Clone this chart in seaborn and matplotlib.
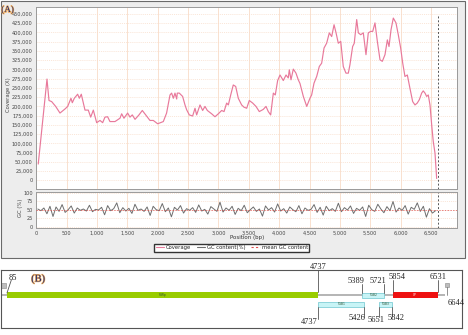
import numpy as np
import pandas as pd
import matplotlib.pyplot as plt
import seaborn as sns
from matplotlib.patches import Rectangle
from matplotlib.lines import Line2D
from matplotlib.ticker import FuncFormatter, MultipleLocator
import matplotlib.patheffects as pe

# ---- panel A data: coverage along the genome (bp, coverage in thousands X) ----
cov_pos = [32, 176, 209, 253, 319, 390, 472, 517, 571, 593,
           626, 681, 709, 741, 802, 856, 896, 939, 994, 1049,
           1093, 1131, 1175, 1213, 1296, 1378, 1406, 1444, 1504, 1543,
           1581, 1626, 1691, 1746, 1802, 1872, 1927, 1999, 2092, 2146,
           2202, 2229, 2257, 2284, 2312, 2322, 2355, 2410, 2449, 2476,
           2520, 2575, 2614, 2641, 2696, 2740, 2778, 2817, 2888, 2943,
           2998, 3053, 3092, 3135, 3163, 3202, 3244, 3284, 3327, 3382,
           3420, 3465, 3508, 3564, 3618, 3673, 3739, 3783, 3821, 3860,
           3904, 3936, 3975, 4014, 4068, 4113, 4150, 4167, 4195, 4233,
           4277, 4315, 4343, 4398, 4454, 4507, 4535, 4574, 4618, 4661,
           4700, 4739, 4782, 4826, 4865, 4904, 4937, 4974, 5014, 5056,
           5100, 5139, 5166, 5210, 5237, 5277, 5304, 5343, 5386, 5430,
           5468, 5508, 5541, 5578, 5617, 5661, 5699, 5743, 5782, 5809,
           5842, 5880, 5924, 5962, 6001, 6035, 6072, 6111, 6154, 6199,
           6237, 6274, 6308, 6347, 6373, 6402, 6429, 6456, 6484, 6512,
           6538, 6567, 6594]
cov_k = [44, 274, 216, 213, 200, 182, 193, 200, 222, 210,
         222, 233, 222, 233, 190, 190, 171, 190, 156, 162,
         156, 171, 172, 159, 159, 168, 180, 168, 182, 171,
         177, 165, 177, 189, 177, 162, 162, 153, 159, 182,
         231, 236, 222, 236, 220, 236, 236, 227, 204, 191,
         177, 174, 195, 177, 204, 189, 200, 189, 180, 172,
         180, 189, 186, 209, 204, 231, 258, 254, 222, 204,
         198, 195, 216, 209, 200, 186, 192, 200, 186, 177,
         236, 231, 270, 285, 270, 285, 277, 299, 272, 301,
         290, 272, 262, 227, 200, 222, 231, 263, 281, 308,
         317, 358, 371, 399, 389, 421, 399, 371, 376, 308,
         290, 290, 313, 362, 371, 435, 399, 394, 399, 340,
         399, 403, 403, 426, 376, 326, 322, 340, 380, 362,
         407, 439, 426, 394, 358, 317, 281, 285, 249, 213,
         204, 209, 218, 236, 242, 236, 227, 231, 204, 150,
         105, 73, 5]

# GC content (%) in 50 bp windows
gc_pos = list(range(25, 6625, 50))
gc_val = [52, 47, 55, 38, 60, 30, 58, 45, 65, 42, 50, 61,
          40, 55, 48, 52, 46, 63, 44, 51, 49, 57, 35, 62,
          47, 53, 70, 41, 56, 46, 54, 39, 66, 48, 52, 45,
          58, 33, 60, 50, 47, 68, 44, 55, 29, 57, 49, 62,
          40, 53, 48, 56, 42, 64, 46, 51, 37, 59, 52, 45,
          72, 43, 55, 48, 60, 36, 54, 47, 63, 41, 50, 58,
          45, 52, 31, 61, 49, 56, 43, 67, 46, 53, 40, 58,
          50, 44, 62, 38, 55, 48, 51, 65, 42, 57, 34, 60,
          47, 53, 45, 69, 44, 56, 49, 61, 39, 54, 48, 58,
          30, 63, 50, 45, 66, 52, 41, 59, 47, 74, 43, 55,
          48, 62, 37, 57, 51, 70, 45, 60, 28, 53, 40, 47]
mean_gc = 50
ref_end = 6611

# ---- panel B data: genome map ----
genome_len = 6644
gene_names = ['RdRp', 'TGB2', 'CP', 'TGB1', 'TGB3']
gene_start = [85, 5389, 5854, 4737, 5651]
gene_end = [4737, 5721, 6531, 5426, 5842]
gene_row = ['top', 'top', 'top', 'bottom', 'bottom']

cov = pd.DataFrame({'pos': cov_pos, 'cov': np.array(cov_k) * 1000})
gc = pd.DataFrame({'pos': gc_pos, 'gc': gc_val})

W, H = 468, 335


def box(l, t, r, b):
    # pixel box -> figure fraction
    return [l / W, 1 - b / H, (r - l) / W, (b - t) / H]


sns.set_style('white')
plt.rcParams['font.family'] = ['DejaVu Sans']
fig = plt.figure(figsize=(W / 100, H / 100), dpi=100)

# background frames
bg = fig.add_axes([0, 0, 1, 1], zorder=-5)
bg.set_xlim(0, W)
bg.set_ylim(H, 0)
bg.axis('off')
bg.add_patch(Rectangle((1, 1), 463.5, 257, fc='#ededed', ec='#6a6a6a', lw=0.8))

grid_c = '#f8dcc8'
tick_kw = dict(labelsize=3.6, colors='#444444', length=1.5, width=0.5, pad=1)

# coverage panel
ax1 = fig.add_axes(box(36.3, 7, 457, 189))
sns.lineplot(data=cov, x='pos', y='cov', ax=ax1, color='#e8799b', lw=0.85)
ax1.set_xlim(0, 6929)
ax1.set_ylim(-23500, 469000)
ax1.yaxis.set_major_locator(MultipleLocator(25000))
ax1.yaxis.set_major_formatter(FuncFormatter(lambda v, p: f'{int(v):,}'))
ax1.set_xticks(range(0, 7000, 500))
ax1.set_xticklabels([])
ax1.vlines(ref_end, -23500, 447000, colors='#555555', linestyles=(0, (2, 2)), lw=0.7)

# GC panel
ax2 = fig.add_axes(box(36.3, 192, 457, 227.5))
sns.lineplot(data=gc, x='pos', y='gc', ax=ax2, color='#6e6e6e', lw=0.7)
ax2.axhline(mean_gc, color='#e05050', lw=0.5, ls=(0, (2, 2)), zorder=3)
ax2.axvline(ref_end, color='#555555', lw=0.7, ls=(0, (2, 2)))
ax2.set_xlim(0, 6929)
ax2.set_ylim(-2.4, 102)
ax2.set_yticks([0, 25, 50, 75, 100])
ax2.set_xticks(range(0, 7000, 500))
ax2.xaxis.set_major_formatter(FuncFormatter(lambda v, p: f'{int(v):,}'))

for ax in (ax1, ax2):
    ax.set_facecolor('white')
    ax.set_xlabel('')
    ax.set_ylabel('')
    ax.tick_params(**tick_kw)
    ax.xaxis.grid(True, color=grid_c, lw=0.6)
    ax.yaxis.grid(True, color=grid_c, lw=0.5, ls=(0, (1.5, 1.5)))
    ax.set_axisbelow(True)
    for s in ax.spines.values():
        s.set_color('#9a9a9a')
        s.set_linewidth(0.7)

fig.text(8.5 / W, 1 - 95 / H, 'Coverage (X)', rotation=90, fontsize=3.8,
         color='#444444', ha='center', va='center')
fig.text(20.5 / W, 1 - 208 / H, 'GC (%)', rotation=90, fontsize=3.8,
         color='#444444', ha='center', va='center')
fig.text(247 / W, 1 - 237.5 / H, 'Position (bp)', fontsize=4,
         color='#333333', ha='center', va='center')

handles = [Line2D([], [], color='#e8799b', lw=0.8),
           Line2D([], [], color='#6e6e6e', lw=0.8),
           Line2D([], [], color='#e05050', lw=0.8, ls=(0, (2, 2)))]
fig.legend(handles, ['Coverage', 'GC content(%)', 'mean GC content'],
           loc='center', bbox_to_anchor=(231.7 / W, 1 - 247.7 / H), ncol=3,
           fontsize=3.8, frameon=True, fancybox=False, edgecolor='#333333',
           framealpha=1, handlelength=1.6, columnspacing=1.0,
           handletextpad=0.4, borderpad=0.3)

lab_fx = [pe.withStroke(linewidth=0.9, foreground='#f3b060')]
fig.text(7.5 / W, 1 - 10 / H, '(A)', fontsize=6.6, family='Liberation Serif',
         color='#1c2870', ha='center', va='center', path_effects=lab_fx)

# ---- panel B ----
axb = fig.add_axes(box(1.3, 270, 462, 328))
axb.set_xlim(0, 6892)
axb.set_ylim(328, 270)
axb.set_xticks([])
axb.set_yticks([])
for s in axb.spines.values():
    s.set_color('#555555')
    s.set_linewidth(0.8)
axb.set_facecolor('white')

axb.plot([0, genome_len], [295, 295], color='#a8a8a8', lw=1.2, zorder=1,
         solid_capstyle='butt')

fills = {'RdRp': '#99cc00', 'CP': '#ee1111'}
for name, s, e, row in zip(gene_names, gene_start, gene_end, gene_row):
    fc = fills.get(name, '#c8f4f6')
    ec = 'none' if name in fills else '#6cc6d0'
    if row == 'top':
        y0, h = (292, 6) if name in fills else (292.5, 5)
    else:
        y0, h = 301.7, 5
    axb.add_patch(Rectangle((s, y0), e - s, h, fc=fc, ec=ec, lw=0.5, zorder=2))
    axb.text((s + e) / 2, y0 + h / 2, name, fontsize=2.2,
             color='white' if name == 'CP' else '#335533',
             ha='center', va='center', zorder=3)

# end caps
axb.add_patch(Rectangle((-20, 282.5), 90, 5, fc='#bdbdbd', ec='#888888', lw=0.4, zorder=2))
axb.add_patch(Rectangle((6642, 282.7), 51, 4, fc='#bdbdbd', ec='#888888', lw=0.4, zorder=2))
axb.plot([6667, 6667], [286.7, 295], color='#666666', lw=0.5)

num_kw = dict(fontsize=6, family='Liberation Serif', color='#222222',
              ha='center', va='center', clip_on=False)
line_kw = dict(color='#555555', lw=0.6, clip_on=False)

# label text (x, y) and leader line ends for each annotated coordinate
top_marks = [(gene_start[0], 175, 277.5, [(85, 150), (293, 280)]),
             (gene_end[0], 4737, 267, [(4737, 4737), (292, 270)]),
             (gene_start[1], 5303, 281, [(5389, 5389), (292.5, 283.5)]),
             (gene_end[1], 5640, 281, [(5721, 5721), (292.5, 283.5)]),
             (gene_start[2], 5919, 277, [(5854, 5854), (292, 280)]),
             (gene_end[2], 6530, 277, [(6531, 6531), (292, 280)])]
bottom_marks = [(gene_start[3], 4607, 321.5, [(4737, 4737), (306.7, 318.5)]),
                (gene_end[3], 5321, 318.5, [(5426, 5426), (306.7, 316.5)]),
                (gene_start[4], 5600, 320.5, [(5651, 5651), (306.7, 317)]),
                (gene_end[4], 5900, 318.5, [(5842, 5842), (306.7, 315.5)]),
                (genome_len, 6810, 302.7, None)]
for val, tx, ty, ln in top_marks + bottom_marks:
    axb.text(tx, ty, str(val), **num_kw)
    if ln is not None:
        axb.plot(ln[0], ln[1], **line_kw)

fig.text(38 / W, 1 - 279 / H, '(B)', fontsize=7.5, family='Liberation Serif',
         color='#1c2870', ha='center', va='center', path_effects=lab_fx)

fig.savefig('out.png', dpi=100)
